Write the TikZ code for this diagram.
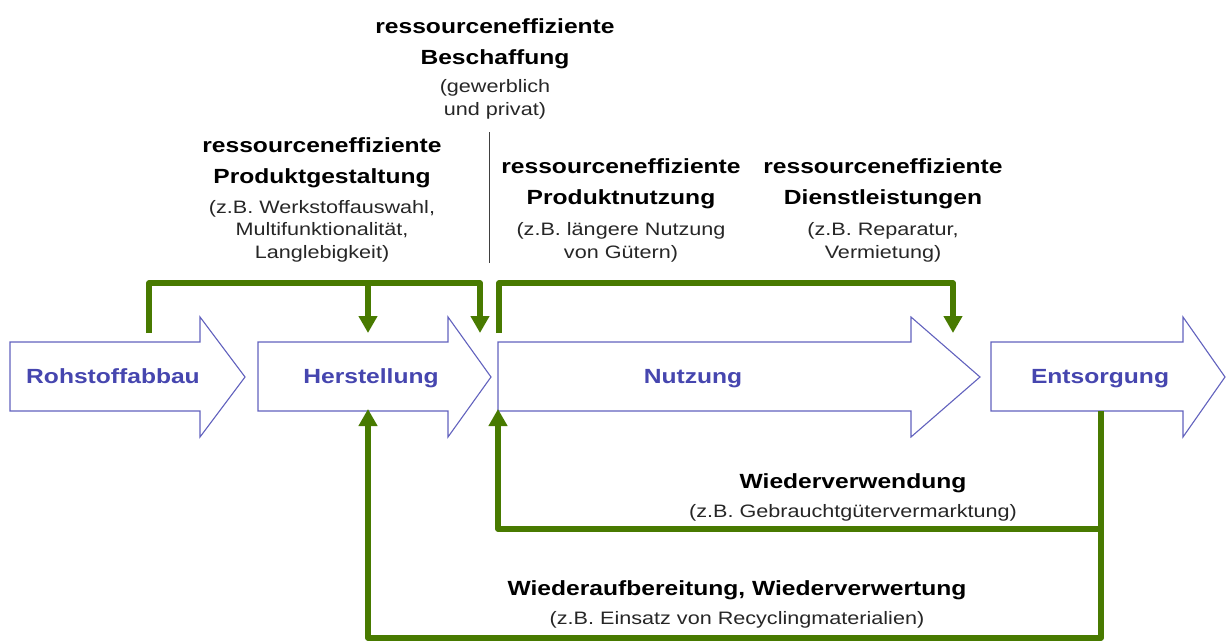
\documentclass[tikz,border=0pt]{standalone}
\usepackage{fontspec}
\setmainfont{Liberation Sans}[FakeStretch=1.2]
\usetikzlibrary{arrows.meta}
\definecolor{stageblue}{RGB}{98,98,190}
\definecolor{labelblue}{RGB}{70,70,175}
\definecolor{flowgreen}{RGB}{72,122,0}

\begin{document}
\begin{tikzpicture}[
    x=1pt, y=-1pt,
    stage/.style={draw=stageblue, line width=1.1pt, fill=white, line join=miter},
    stagelabel/.style={font=\bfseries\fontsize{20.5}{23}\selectfont,
                text=labelblue, anchor=base, inner sep=0pt},
    title/.style={font=\bfseries\fontsize{20.5}{31}\selectfont,
                align=center, anchor=base, inner sep=0pt},
    detail/.style={font=\fontsize{18}{22.5}\selectfont, text=black!85,
                align=center, anchor=base, inner sep=0pt},
    flow/.style={draw=flowgreen, line width=5.5pt, line join=round},
    arrow/.style={flow, -{Triangle[width=18pt, length=17pt]}}
]
    \useasboundingbox (0,0) rectangle (1227,642);

    % Process chain
    \draw[stage] (10,342) -- (200,342) -- (200,317) -- (245,377) -- (200,437) -- (200,411) -- (10,411) -- cycle;
    \node[stagelabel] (roh) at (113,383) {Rohstoffabbau};
    \draw[stage] (258,342) -- (448,342) -- (448,317) -- (491,377) -- (448,437) -- (448,411) -- (258,411) -- cycle;
    \node[stagelabel] (herst) at (371,383) {Herstellung};
    \draw[stage] (498,342) -- (911,342) -- (911,317) -- (980,377) -- (911,437) -- (911,411) -- (498,411) -- cycle;
    \node[stagelabel] (nutz) at (693,383) {Nutzung};
    \draw[stage] (991,342) -- (1183,342) -- (1183,317) -- (1225,377) -- (1183,437) -- (1183,411) -- (991,411) -- cycle;
    \node[stagelabel] (ents) at (1100,383) {Entsorgung};

    % Connection points
    \coordinate (roh-top) at (149,333);
    \coordinate (herst-in) at (368,333);
    \coordinate (nutz-in) at (480,333);
    \coordinate (nutz-top) at (499,333);
    \coordinate (ents-in) at (953,333);
    \coordinate (herst-back) at (368,409);
    \coordinate (nutz-back) at (498,409);
    \coordinate (ents-out) at (1101,411);
    \coordinate (bus-left) at (149,283);
    \coordinate (bus-right) at (499,283);
    \coordinate (reuse) at (498,529);
    \coordinate (recycle) at (368,638);

    % Upper flows
    \draw[arrow] (roh-top) -- (bus-left) -| (nutz-in);
    \draw[arrow] (herst-in |- bus-left) -- (herst-in);
    \draw[arrow] (nutz-top) -- (bus-right) -| (ents-in);

    % Lower flows
    \draw[arrow] (ents-out) |- (reuse) -- (nutz-back);
    \draw[arrow] (ents-out) |- (recycle) -- (herst-back);

    % Divider
    \draw[black!75, line width=0.8pt] (489,132) -- (489,263);

    % Labels above (anchored at the last line)
    \node[title] (beschaffung) at (495,65) {ressourceneffiziente\\Beschaffung};
    \node[detail] (beschaffung-detail) at (495,115) {(gewerblich\\und privat)};
    \node[title] (gestaltung) at (322,183) {ressourceneffiziente\\Produktgestaltung};
    \node[detail] (gestaltung-detail) at (322,258) {(z.B. Werkstoffauswahl,\\Multifunktionalität,\\Langlebigkeit)};
    \node[title] (produktnutzung) at (621,204) {ressourceneffiziente\\Produktnutzung};
    \node[detail] (produktnutzung-detail) at (621,258) {(z.B. längere Nutzung\\von Gütern)};
    \node[title] (dienste) at (883,204) {ressourceneffiziente\\Dienstleistungen};
    \node[detail] (dienste-detail) at (883,258) {(z.B. Reparatur,\\Vermietung)};

    % Labels below
    \node[title] (wiederverwendung) at (853,488) {Wiederverwendung};
    \node[detail] (wiederverwendung-detail) at (853,517) {(z.B. Gebrauchtgütervermarktung)};
    \node[title] (wiederaufbereitung) at (737,595) {Wiederaufbereitung, Wiederverwertung};
    \node[detail] (wiederaufbereitung-detail) at (737,624) {(z.B. Einsatz von Recyclingmaterialien)};
\end{tikzpicture}
\end{document}
